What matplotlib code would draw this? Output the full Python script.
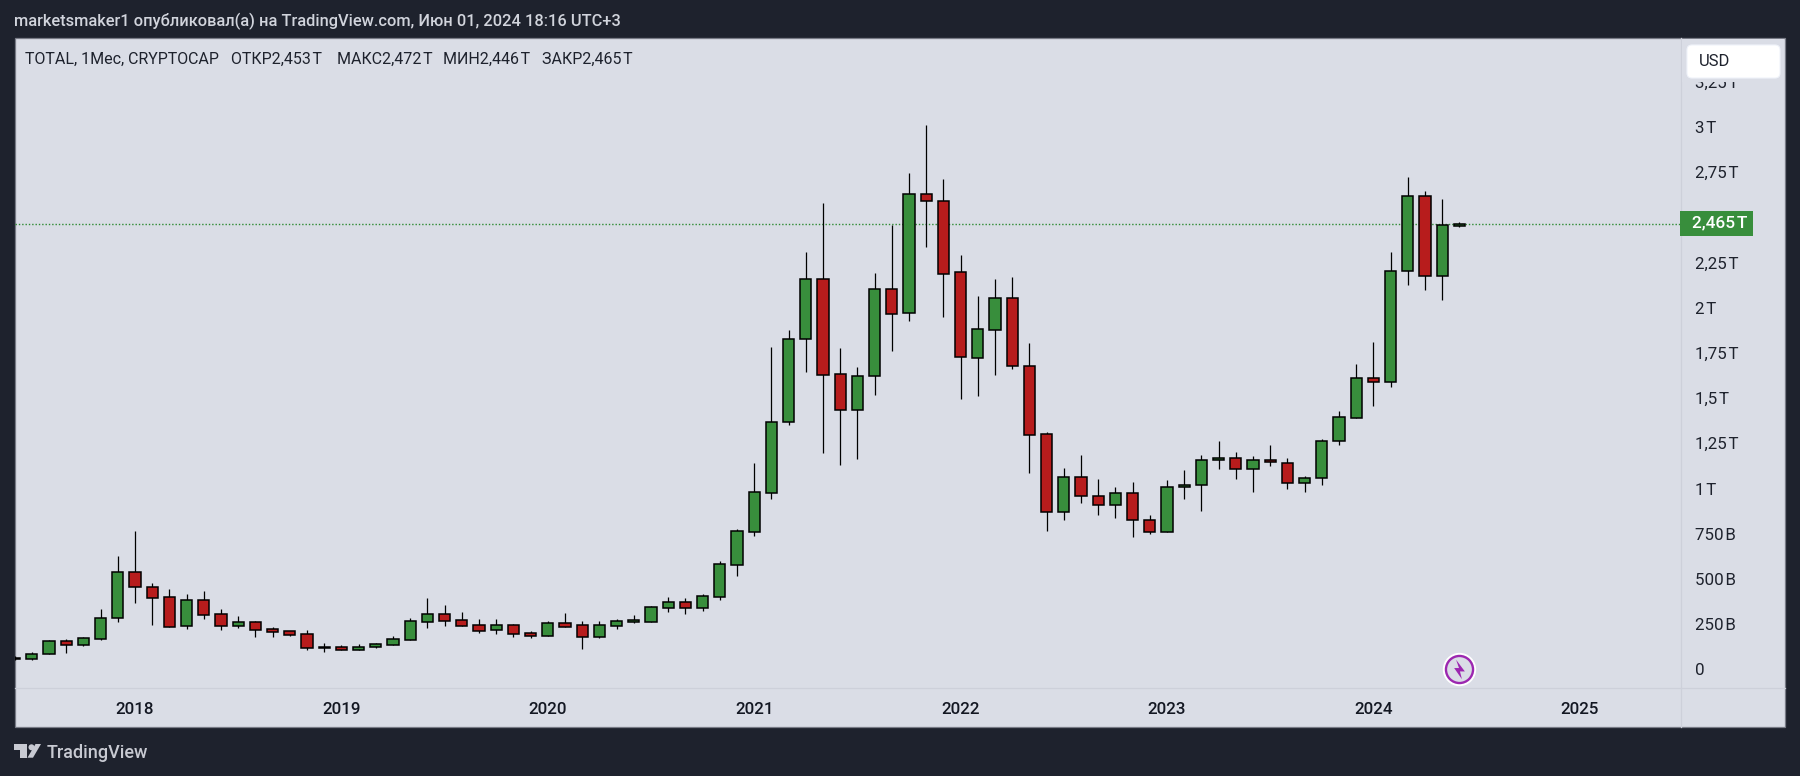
import numpy as np
import matplotlib
matplotlib.use('Agg')
import matplotlib.pyplot as plt
from matplotlib.patches import Polygon, Rectangle, FancyBboxPatch
from matplotlib.path import Path

plt.rcParams['font.family'] = ['Roboto', 'DejaVu Sans']

# monthly candles from 2017-06 to 2024-06, billions of USD
opens = [58.8, 58.8, 82.7, 154.6, 136.2, 169.4, 281.9, 536.3, 453.3, 398, 241.3, 381.4, 304,
         241.3, 259.7, 221, 210, 193.4, 123.3, 121.5, 108.6, 125.2, 136.2, 163.9, 263.4, 304,
         270.8, 243.1, 219.2, 243.1, 198.9, 186, 254.2, 243.1, 180.5, 241.3, 263.4, 263.4,
         340.9, 370.4, 340.9, 401.7, 578.7, 761.2, 977, 1369.6, 1825, 2156.9, 1631.4, 1436,
         1624, 2101.6, 1968.8, 2627, 2588.3, 2195.6, 1723.6, 1878.5, 2051.8, 1675.8, 1299.6,
         868.2, 1061.8, 956.7, 906.9, 973.3, 823.9, 757.6, 1006.5, 1017.5, 1155.8, 1166.9,
         1106, 1155.8, 1139.2, 1028.6, 1056.3, 1260.9, 1391.8, 1609.3, 1587.2, 2201.2, 2616,
         2177.2, 2453]
highs = [71.7, 93.8, 160.2, 167.6, 178.6, 331.6, 626.6, 764.9, 477.3, 444.1, 416.4, 433, 331.6,
         294.8, 267.1, 232.1, 211.8, 217.3, 143.6, 134.4, 139.9, 143.6, 184.1, 283.7, 394.3,
         355.6, 317, 278.2, 278.2, 252.4, 211.8, 267.1, 311.4, 267.1, 267.1, 276.3, 300.3, 350,
         399.9, 394.3, 414.6, 599, 774.1, 1141, 1782.6, 1876.6, 2306.2, 2579.1, 1777, 1672,
         2191.9, 2457.4, 2745, 3010.5, 2711.8, 2291.5, 2064.7, 2158.7, 2169.8, 1804.8, 1312.5,
         1113.4, 1185.3, 1052.6, 1008.3, 1036, 853.4, 1047, 1102.4, 1185.3, 1262.7, 1201.9,
         1179.8, 1240.6, 1168.7, 1067.3, 1272, 1426.8, 1688.6, 1810.3, 2308.1, 2722.9, 2643.6,
         2601.3, 2472]
lows = [51.4, 51.4, 82.7, 92, 130.7, 162, 261.6, 366.7, 246.8, 234, 224.7, 280, 219.2, 230.2,
        180.5, 180.5, 186, 106.7, 97.5, 107, 107, 119.6, 136, 163, 230.2, 241.3, 241, 202.6,
        197, 180.5, 175, 186, 235, 114.1, 175, 224.7, 257.9, 263, 316.9, 305.8, 324.3, 383.3,
        516, 737.3, 943.7, 1351.2, 1646.2, 1198.2, 1131.8, 1165, 1519, 1762.3, 1928.3, 2337.6,
        1950.4, 1496.9, 1513.4, 1629.6, 1662.8, 1087.6, 766.8, 827.6, 921.7, 855.3, 838.7,
        733.6, 750.2, 757, 943.8, 877.4, 1109.7, 1054.4, 982.5, 1126.3, 999, 982.5, 1021.2,
        1242.5, 1390, 1456.3, 1561.4, 2125.6, 2097.9, 2042.6, 2446]
closes = [60.6, 82.7, 154.6, 136.2, 171.2, 281.9, 536.3, 453.3, 396.2, 235.8, 381.4, 302.2,
          241.3, 259.7, 219.2, 208.1, 191.5, 119.6, 117.8, 108.6, 121.5, 138, 165.7, 265.3,
          304, 269, 241.3, 213.7, 243.1, 197, 186, 254.2, 235.8, 180.5, 243.1, 265.3, 270.8,
          342.7, 370.4, 340.9, 403.5, 580.5, 763, 978.8, 1365.9, 1825, 2156.9, 1629.6, 1436,
          1620.4, 2101.6, 1963.3, 2627, 2588.3, 2184.5, 1729.2, 1880.3, 2051.8, 1675.7, 1294.1,
          868.2, 1061.8, 956.7, 906.9, 973.3, 823.9, 757.6, 1006.5, 1017.5, 1155.8, 1166.9,
          1106, 1155.8, 1144.8, 1028.6, 1056.3, 1260.9, 1393.7, 1609.3, 1587.2, 2201.2, 2616,
          2177.2, 2455.6, 2465]

year_ticks = [7, 19, 31, 43, 55, 67, 79, 91]
year_labels = ['2018', '2019', '2020', '2021', '2022', '2023', '2024', '2025']
price_ticks = [0, 250, 500, 750, 1000, 1250, 1500, 1750, 2000, 2250, 2500, 2750, 3000, 3250]
price_labels = ['0', '250\u200aB', '500\u200aB', '750\u200aB', '1\u200aT', '1,25\u200aT', '1,5\u200aT',
                '1,75\u200aT', '2\u200aT', '2,25\u200aT', '2,5\u200aT', '2,75\u200aT', '3\u200aT', '3,25\u200aT']
last_price = 2465

GREEN = '#388e3c'
RED = '#b71c1c'
DARK = '#1e222d'
PANE = '#dadde6'
TEXT = '#1e222d'
W, H = 1800, 776

fig = plt.figure(figsize=(W / 100, H / 100), dpi=100, facecolor=DARK)

# overlay in pixel coordinates for the frame around the chart
bg = fig.add_axes([0, 0, 1, 1], zorder=0)
bg.set_xlim(0, W)
bg.set_ylim(H, 0)
bg.axis('off')
bg.add_patch(Rectangle((14.5, 38), 1770.5, 688.5, fc=PANE, ec='#787b86', lw=0.9))
bg.plot([14.5, 1785], [688.3, 688.3], color='#cdd0da', lw=0.9)
bg.plot([1680.6, 1680.6], [38, 726.5], color='#cdd0da', lw=0.9)

# price pane
left, right, top, bottom = 15, 1680, 39, 688
ax = fig.add_axes([left / W, 1 - bottom / H, (right - left) / W, (bottom - top) / H], zorder=1)
ax.patch.set_alpha(0)
ax.set_xlim(7 + (left - 135) / 17.2, 7 + (right - 135) / 17.2)
ax.set_ylim((669.3 - bottom) * 5.531, (669.3 - top) * 5.531)
for s in ax.spines.values():
    s.set_visible(False)

x = np.arange(len(opens))
o, h, l, c = map(np.array, (opens, highs, lows, closes))
colors = [GREEN if b >= a else RED for a, b in zip(o, c)]

ax.axhline(last_price, color='#2e8b32', lw=1.0, ls=(0, (1, 1.4)), zorder=1)
ax.vlines(x, l, h, color='black', lw=0.9, zorder=2)
ax.bar(x, c - o, bottom=o, width=0.66, color=colors, edgecolor='black', lw=1.1, zorder=3)

ax.set_xticks(year_ticks, year_labels, fontweight='medium')
ax.yaxis.tick_right()
ax.set_yticks(price_ticks, price_labels)
ax.tick_params(axis='x', length=0, pad=10, labelsize=12.2, labelcolor='#131722')
ax.tick_params(axis='y', length=0, pad=11, labelsize=12.2, labelcolor=TEXT)

# bolt mark on the last bar
bolt = Path([(0.25, -1), (-0.55, 0.15), (-0.05, 0.15), (-0.35, 1), (0.55, -0.2), (0.05, -0.2), (0.25, -1)], closed=True)
ax.plot([84], [0], 'o', ms=23, mfc='white', mec='white', zorder=5, clip_on=False)
ax.plot([84], [0], 'o', ms=19.5, mfc=PANE, mec='#9c27b0', mew=1.7, zorder=6, clip_on=False)
ax.plot([84], [0], marker=bolt, ms=14, mfc='#9c27b0', mec='none', zorder=7, clip_on=False)

# overlay in pixel coordinates for header, legend and badges
top_ax = fig.add_axes([0, 0, 1, 1], zorder=2)
top_ax.set_xlim(0, W)
top_ax.set_ylim(H, 0)
top_ax.axis('off')
top_ax.patch.set_alpha(0)

top_ax.text(14, 21.5, 'marketsmaker1 опубликовал(а) на TradingView.com, Июн 01, 2024 18:16 UTC+3',
            color='#d1d4dc', fontsize=11.8, fontweight='medium', va='center')
top_ax.text(25, 59.5, 'TOTAL, 1Мес, CRYPTOCAP', color=TEXT, fontsize=11.5, va='center')
for px, txt in zip([231, 337, 443, 542],
                   ['ОТКР2,453\u200aT', 'МАКС2,472\u200aT', 'МИН2,446\u200aT', 'ЗАКР2,465\u200aT']):
    top_ax.text(px, 59.5, txt, color=TEXT, fontsize=11.5, va='center')

# the scale label under the currency box is cut off above y=82
top_ax.add_patch(Rectangle((1682, 39), 102, 43, fc=PANE, ec='none'))
top_ax.add_patch(FancyBboxPatch((1690, 48), 87, 27, boxstyle='round,pad=3,rounding_size=5', fc='white', ec='#f0f3fa', lw=0.8))
top_ax.text(1699, 61, 'USD', color=TEXT, fontsize=12, va='center')

top_ax.add_patch(Rectangle((1680, 211), 73, 25, fc=GREEN, ec='none'))
top_ax.text(1692, 222.5, '2,465\u200aT', color='white', fontsize=12.4, fontweight='medium', va='center')

# TradingView logo
logo = '#c8cad2'
top_ax.add_patch(Polygon([(14, 744), (27, 744), (27, 757.7), (20, 757.7), (20, 750), (14, 750)], fc=logo, ec='none'))
top_ax.add_patch(plt.Circle((31.5, 747.3), 3, fc=logo, ec='none'))
top_ax.add_patch(Polygon([(35.5, 744), (41, 744), (33, 757.7), (27.5, 757.7)], fc=logo, ec='none'))
top_ax.text(46.5, 752.5, 'TradingView', color=logo, fontsize=13, fontweight='medium', va='center')

fig.savefig('out.png', dpi=100, facecolor=DARK)
